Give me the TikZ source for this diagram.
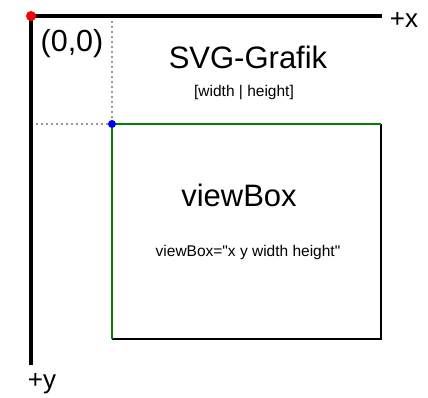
\documentclass[tikz,border=0pt]{standalone}
\usepackage{fontspec}
\setmainfont{Liberation Sans}
\newfontfamily\qfont{Liberation Sans}
\begin{document}
\begin{tikzpicture}[x=1pt,y=-1pt,
  axis/.style={line width=4.5pt},
  guide/.style={gray!80,line width=1.8pt,dash pattern=on 1.8pt off 3.2pt},
  big/.style={font=\fontsize{31}{36}\selectfont,inner sep=0pt},
  lbl/.style={font=\fontsize{26}{30}\selectfont,inner sep=0pt},
  small/.style={font=\qfont\fontsize{15.5}{18}\selectfont,inner sep=0pt}]
\useasboundingbox (0,0) rectangle (428,398);
\coordinate (o) at (31,16);
\coordinate (xend) at (382,16);
\coordinate (yend) at (31,365);
\coordinate (tl) at (112,124);
\coordinate (tr) at (381,124);
\coordinate (br) at (381,339);
\coordinate (bl) at (112,339);
\coordinate (gx) at (112,16);
\coordinate (gy) at (31,124);
\draw[guide] (gx) -- (tl);
\draw[guide] (gy) -- (tl);
\draw[axis] (xend) -- (o) -- (yend);
\draw[line width=2.5pt,black] (tr) -- (br) -- (bl);
\draw[line width=2.5pt,green!50!black] (bl) -- (tl) -- (tr);
\fill[red] (o) circle (5);
\fill[blue] (tl) circle (4);
\node[lbl] (px) at (404,20) {+x};
\node[lbl] (py) at (42,384) {+y};
\node[lbl,font=\fontsize{30.5}{35}\selectfont] (org) at (72,44) {(0,0)};
\node[big] (svg) at (248,57) {SVG-Grafik};
\node[small] (wh) at (244,93) {[width | height]};
\node[big] (vb) at (239,195) {viewBox};
\node[small] (vbs) at (248,252) {viewBox="x y width height"};
\end{tikzpicture}
\end{document}
